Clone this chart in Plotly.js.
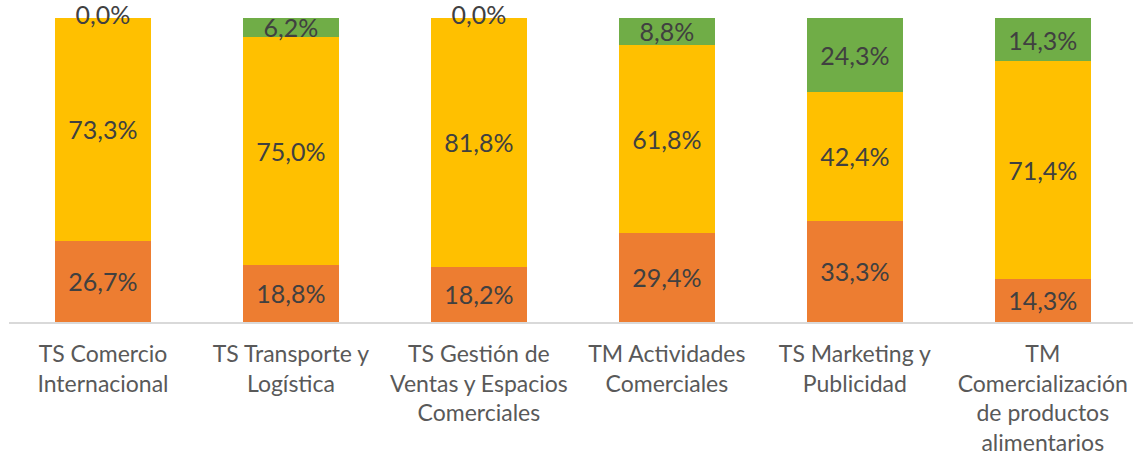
<!DOCTYPE html>
<html>
<head>
<meta charset="utf-8">
<script src="https://cdn.plot.ly/plotly-3.0.1.min.js"></script>
<style>html,body{margin:0;padding:0;background:#fff;}#chart{width:1133px;height:457px;}</style>
</head>
<body>
<div id="chart"></div>
<script>
var categories = [
  "TS Comercio<br>Internacional",
  "TS Transporte y<br>Logística",
  "TS Gestión de<br>Ventas y Espacios<br>Comerciales",
  "TM Actividades<br>Comerciales",
  "TS Marketing y<br>Publicidad",
  "TM<br>Comercialización<br>de productos<br>alimentarios"
];
var orangeValues = [26.7, 18.8, 18.2, 29.4, 33.3, 14.3];
var yellowValues = [73.3, 75.0, 81.8, 61.8, 42.4, 71.4];
var greenValues  = [0.0, 6.2, 0.0, 8.8, 24.3, 14.3];

var FONT = "Lato, 'Open Sans', sans-serif";
function fmt(v){ return v.toFixed(1).replace('.', ',') + '%'; }

function barTrace(vals, color){
  return {
    type: 'bar', x: categories, y: vals,
    marker: {color: color, line: {width: 0}},
    text: vals.map(function(v){ return v === 0 ? '' : fmt(v); }),
    textposition: 'inside', insidetextanchor: 'middle',
    constraintext: 'none',
    textfont: {family: FONT, size: 25, color: '#404040'},
    hoverinfo: 'none', showlegend: false
  };
}

var zeroX = [], zeroY = [], zeroT = [];
greenValues.forEach(function(v, i){
  if (v === 0) {
    zeroX.push(categories[i]);
    zeroY.push(orangeValues[i] + yellowValues[i] + v);
    zeroT.push(fmt(v));
  }
});

var data = [
  barTrace(orangeValues, '#ED7D31'),
  barTrace(yellowValues, '#FFC000'),
  barTrace(greenValues, '#70AD47'),
  {
    type: 'scatter', mode: 'text', x: zeroX, y: zeroY, text: zeroT,
    textposition: 'middle center',
    textfont: {family: FONT, size: 25, color: '#404040'},
    cliponaxis: false, hoverinfo: 'none', showlegend: false
  }
];

var layout = {
  width: 1133, height: 457,
  margin: {l: 9, r: 0, t: 18, b: 135},
  paper_bgcolor: '#ffffff', plot_bgcolor: '#ffffff',
  barmode: 'stack', bargap: 0.49,
  uniformtext: {mode: false},
  font: {family: FONT, color: '#595959'},
  xaxis: {
    type: 'category', range: [-0.5, 5.48],
    showline: true, linecolor: '#D9D9D9', linewidth: 2,
    ticks: '', showgrid: false, zeroline: false,
    tickfont: {family: FONT, size: 23, color: '#595959'},
    tickangle: 0, automargin: false, ticklabelstandoff: 10
  },
  yaxis: {range: [0, 100], visible: false, fixedrange: true},
  showlegend: false
};

Plotly.newPlot('chart', data, layout, {displayModeBar: false, staticPlot: true});
</script>
</body>
</html>
